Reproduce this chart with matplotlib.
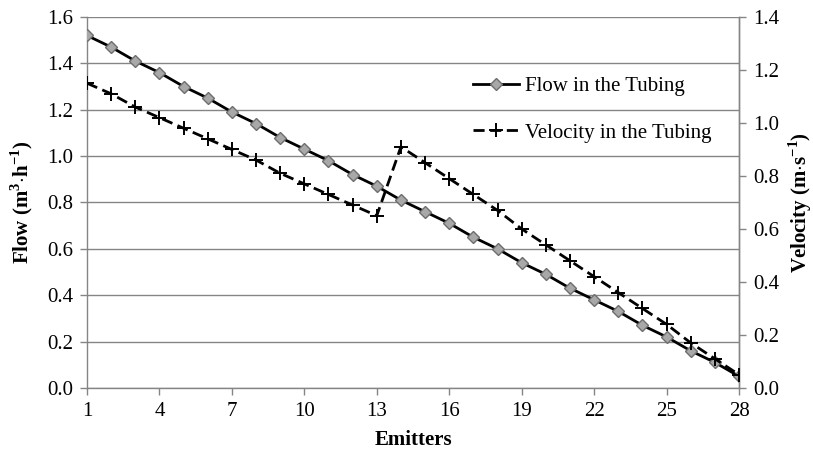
import matplotlib
matplotlib.use("Agg")
import matplotlib.pyplot as plt
import numpy as np

plt.rcParams["font.family"] = ["Liberation Serif", "DejaVu Serif"]
plt.rcParams["mathtext.fontset"] = "custom"
plt.rcParams["mathtext.rm"] = "Liberation Serif:bold"
plt.rcParams["mathtext.bf"] = "Liberation Serif:bold"

emitters = list(range(1, 29))
flow = [1.52, 1.47, 1.41, 1.36, 1.30, 1.25, 1.19, 1.14, 1.08, 1.03,
        0.98, 0.92, 0.87, 0.81, 0.76, 0.71, 0.65, 0.60, 0.54, 0.49,
        0.43, 0.38, 0.33, 0.27, 0.22, 0.16, 0.11, 0.05]
velocity = [1.15, 1.11, 1.06, 1.02, 0.98, 0.94, 0.90, 0.86, 0.81, 0.77,
            0.73, 0.69, 0.65, 0.91, 0.85, 0.79, 0.73, 0.67, 0.60, 0.54,
            0.48, 0.42, 0.36, 0.30, 0.24, 0.17, 0.11, 0.05]

grey = "#858585"

fig = plt.figure(figsize=(8.13, 4.58), dpi=100)
ax = fig.add_axes([0.107, 0.153, 0.802, 0.810])
ax2 = ax.twinx()

l1, = ax.plot(emitters, flow, color="black", lw=2, marker="D", ms=6,
              mfc="#a8a8a8", mec="#6e6e6e", mew=1, zorder=3,
              label="Flow in the Tubing")
l2, = ax2.plot(emitters, velocity, color="black", lw=2, ls=(0, (4, 2)),
               marker="+", ms=10, mew=1.4, zorder=3,
               label="Velocity in the Tubing")

ax.set_xlim(1, 28)
ax.set_ylim(0, 1.6)
ax2.set_ylim(0, 1.4)
ax.set_xticks(range(1, 29, 3))
ax.set_yticks(np.arange(0, 1.61, 0.2))
ax2.set_yticks(np.arange(0, 1.41, 0.2))
ax.set_yticklabels([f"{v:.1f}" for v in np.arange(0, 1.61, 0.2)])
ax2.set_yticklabels([f"{v:.1f}" for v in np.arange(0, 1.41, 0.2)])

ax.yaxis.grid(True, color=grey, lw=1)
ax.set_axisbelow(True)

for a in (ax, ax2):
    a.spines["top"].set_visible(False)
    for s in ("left", "right", "bottom"):
        a.spines[s].set_color(grey)
        a.spines[s].set_linewidth(1)
    a.tick_params(direction="out", length=5, width=1, color=grey,
                  labelsize=15, pad=5)
ax2.spines["left"].set_visible(False)
ax2.spines["bottom"].set_visible(False)

ax.set_xlabel("Emitters", fontsize=15, fontweight="bold")
ax.set_ylabel(r"Flow (m$^{3}$$\cdot$h$^{-1}$)", fontsize=15,
              fontweight="bold")
ax2.set_ylabel(r"Velocity (m$\cdot$s$^{-1}$)", fontsize=15,
               fontweight="bold")
ax.xaxis.set_label_coords(0.5, -0.140)
ax.yaxis.set_label_coords(-0.100, 0.5)
ax2.yaxis.set_label_coords(1.094, 0.5)
ax.xaxis.label.set_va("center")
ax.yaxis.label.set_va("center")
ax2.yaxis.label.set_va("center")

ax2.legend(handles=[l1, l2], loc="upper left", bbox_to_anchor=(0.564, 0.89),
           frameon=False, fontsize=15, handlelength=2.2, handletextpad=0.25,
           labelspacing=1.3)

fig.savefig("out.png", dpi=100)
